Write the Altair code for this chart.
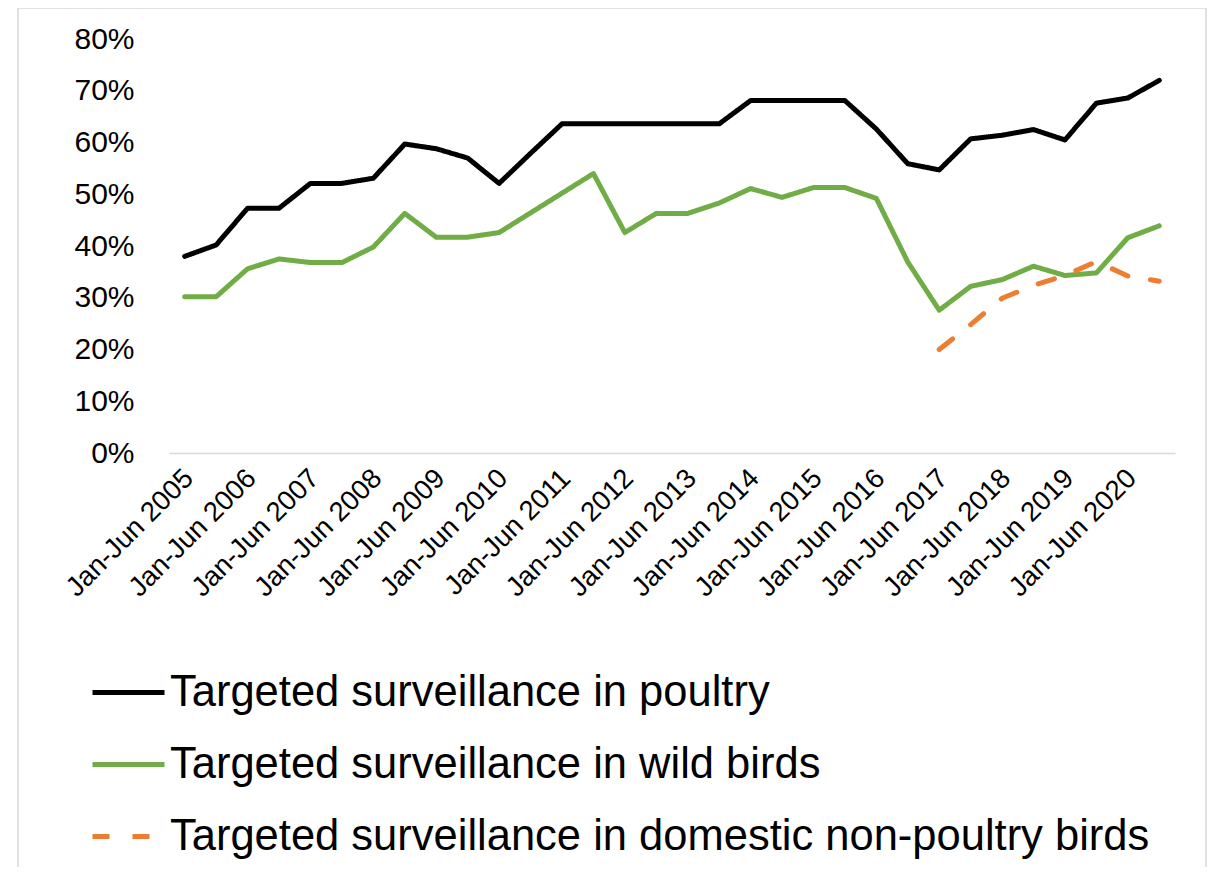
import altair as alt
import pandas as pd

years = list(range(2005, 2021))
periods = [f"{h} {y}" for y in years for h in ("Jan-Jun", "Jul-Dec")]
tick_labels = [f"Jan-Jun {y}" for y in years]
y_ticks = [0, 0.1, 0.2, 0.3, 0.4, 0.5, 0.6, 0.7, 0.8]

poultry = [38.0, 40.2, 47.3, 47.3, 52.1, 52.1, 53.1, 59.7, 58.8, 57.0, 52.1, 57.9,
           63.6, 63.6, 63.6, 63.6, 63.6, 63.6, 68.1, 68.1, 68.1, 68.1, 62.6, 55.9,
           54.7, 60.7, 61.4, 62.5, 60.5, 67.6, 68.6, 72.0]
wild = [30.2, 30.2, 35.6, 37.5, 36.8, 36.8, 39.8, 46.3, 41.7, 41.7, 42.6, 46.4,
        50.2, 54.0, 42.6, 46.3, 46.3, 48.3, 51.1, 49.4, 51.3, 51.3, 49.2, 36.9,
        27.6, 32.2, 33.5, 36.1, 34.3, 34.8, 41.6, 43.9]
domestic = [None] * 24 + [20.0, 24.8, 29.9, 32.4, 34.3, 37.0, 34.2, 33.2]

series_names = ["Targeted surveillance in poultry",
                "Targeted surveillance in wild birds",
                "Targeted surveillance in domestic non-poultry birds"]
series_colors = ["#000000", "#70AD47", "#ED7D31"]
series_dash = [[1, 0], [1, 0], [17, 23]]

rows = []
for name, vals in zip(series_names, [poultry, wild, domestic]):
    for p, v in zip(periods, vals):
        if v is not None:
            rows.append({"period": p, "series": name, "value": v / 100})
df = pd.DataFrame(rows)

FONT = "Liberation Sans"

legend_kw = dict(
    title=None, orient="none", legendX=-79, legendY=615, direction="vertical",
    symbolType="stroke", symbolSize=5184, symbolStrokeWidth=5,
    labelFontSize=43.5, labelFont=FONT, labelColor="black", labelOffset=3,
    rowPadding=12, labelLimit=0,
)

lines = alt.Chart(df).mark_line(strokeWidth=5, strokeCap="round", strokeJoin="round").encode(
    x=alt.X("period:N", sort=periods,
            scale=alt.Scale(type="point", padding=0.5),
            axis=alt.Axis(values=tick_labels, labelAngle=-45, title=None, ticks=False,
                          domainColor="#d9d9d9", domainWidth=1.5, labelFontSize=27.5,
                          labelFont=FONT, labelColor="black", labelPadding=11,
                          labelOffset=-6, grid=False)),
    y=alt.Y("value:Q", scale=alt.Scale(domain=[0, 0.8]),
            axis=alt.Axis(values=y_ticks, format=".0%", title=None, ticks=False, domain=False,
                          grid=False, labelFontSize=30, labelFont=FONT, labelColor="black",
                          labelPadding=35)),
    color=alt.Color("series:N", sort=series_names,
                    scale=alt.Scale(domain=series_names, range=series_colors),
                    legend=alt.Legend(**legend_kw)),
    strokeDash=alt.StrokeDash("series:N", sort=series_names,
                              scale=alt.Scale(domain=series_names, range=series_dash),
                              legend=alt.Legend(**legend_kw)),
)

border = alt.Chart(pd.DataFrame({"a": [0]})).mark_rect(
    fill="white", fillOpacity=0, stroke="#d9d9d9", strokeWidth=1.5
).encode(x=alt.value(-151), x2=alt.value(1037), y=alt.value(-31), y2=alt.value(1000))

chart = alt.layer(border, lines).properties(
    width=1006, height=414,
    autosize=alt.AutoSizeParams(type="none"),
    padding={"left": 161, "top": 31, "right": 33, "bottom": 414},
).configure_view(stroke=None)

chart.save("out.html", embed_options={"renderer": "svg", "actions": False})
